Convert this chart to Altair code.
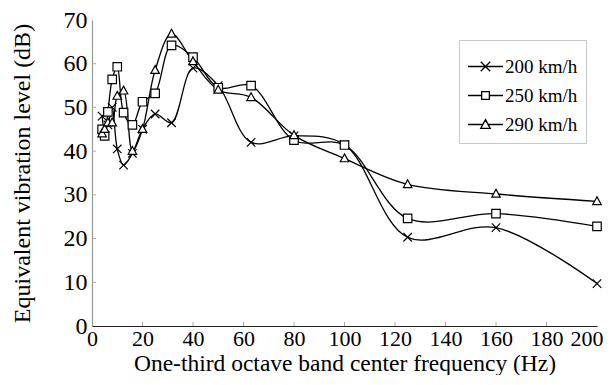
import altair as alt
import pandas as pd

freqs = [4, 5, 6.3, 8, 10, 12.5, 16, 20, 25, 31.5, 40, 50, 63, 80, 100, 125, 160, 200]
series_names = ["200 km/h", "250 km/h", "290 km/h"]
v200 = [48, 45, 46, 50, 40.5, 36.8, 39.5, 45, 48.5, 46.5, 59, 55, 42, 43.5, 41.5, 20.3, 22.5, 9.7]
v250 = [45, 43.5, 49, 56.4, 59.3, 48.8, 46, 51.3, 53.2, 64.2, 61.5, 54.5, 55, 42.5, 41.4, 24.6, 25.7, 22.8]
v290 = [44, 45, 46.5, 46.5, 52.6, 53.8, 40, 45, 58.5, 66.8, 60.5, 54, 52.3, 43.6, 38.3, 32.4, 30.2, 28.5]
x_ticks = list(range(0, 201, 20))
y_ticks = list(range(0, 71, 10))

rows = []
for name, vals in zip(series_names, [v200, v250, v290]):
    for f, v in zip(freqs, vals):
        rows.append({"freq": f, "level": v, "series": name})
df = pd.DataFrame(rows)
xt_df = pd.DataFrame({"freq": x_ticks[1:-1]})
yt_df = pd.DataFrame({"level": y_ticks[1:-1]})

FONT = "Liberation Serif"

marker_paths = [
    "M-1,-1L1,1M-1,1L1,-1",
    "M-1,-1L1,-1L1,1L-1,1Z",
    "M0,-1.1L1,0.75L-1,0.75Z",
]
legend_paths = [
    "M-1,0L1,0M-0.27,-0.27L0.27,0.27M-0.27,0.27L0.27,-0.27",
    "M-1,0L-0.22,0M0.22,0L1,0M-0.22,-0.22L0.22,-0.22L0.22,0.22L-0.22,0.22Z",
    "M-1,0L-0.15,0M0.15,0L1,0M0,-0.28L0.27,0.22L-0.27,0.22Z",
]

x_scale = alt.Scale(domain=[0, 200], nice=False, zero=False)
y_scale = alt.Scale(domain=[0, 70], nice=False)

x_enc = alt.X(
    "freq:Q", scale=x_scale,
    axis=alt.Axis(
        values=x_ticks, title="One-third octave band center frequency (Hz)",
        grid=False, ticks=False, tickSize=0, labelPadding=2, titlePadding=2,
        labelFont=FONT, labelFontSize=22, titleFont=FONT, titleFontSize=23.5,
        titleFontWeight="normal", labelColor="black", titleColor="black",
        domainColor="#222", domainWidth=1.2, labelFlush=False,
        labelAlign={"condition": {"test": "datum.value === 200", "value": "right"}, "value": "center"},
        labelOffset={"condition": {"test": "datum.value === 200", "value": 6}, "value": 0},
    ),
)
y_enc = alt.Y(
    "level:Q", scale=y_scale,
    axis=alt.Axis(
        values=y_ticks, title="Equivalent vibration level (dB)",
        grid=False, ticks=False, tickSize=0, labelPadding=5, titlePadding=29,
        labelFont=FONT, labelFontSize=24, titleFont=FONT, titleFontSize=24,
        titleFontWeight="normal", labelColor="black", titleColor="black",
        domainColor="#999", domainWidth=1.2, labelFlush=False,
    ),
)

lines = alt.Chart(df).mark_line(
    interpolate="catmull-rom", color="black", strokeWidth=1.3
).encode(x=x_enc, y=y_enc, detail="series:N")

points = alt.Chart(df).mark_point(
    filled=True, fill="white", stroke="black", strokeWidth=1.2, size=72, opacity=1
).encode(
    x="freq:Q", y="level:Q",
    shape=alt.Shape("series:N", scale=alt.Scale(domain=series_names, range=marker_paths), legend=None),
)

legend_layer = alt.Chart(df).mark_point(
    filled=False, color="black", strokeWidth=1.2, opacity=0
).encode(
    x="freq:Q", y="level:Q",
    shape=alt.Shape(
        "series:N",
        scale=alt.Scale(domain=series_names, range=legend_paths),
        legend=alt.Legend(
            title=None, orient="none", legendX=367, legendY=20,
            symbolSize=1225, symbolStrokeWidth=1.3, symbolStrokeColor="black",
            symbolOpacity=1,
            labelFont=FONT, labelFontSize=19, labelColor="black", labelOffset=1,
            rowPadding=0, padding=8, strokeColor="#c8c8c8", fillColor="white",
        ),
    ),
)

x_tick_marks = alt.Chart(xt_df).mark_rule(color="#aaa", strokeWidth=1).encode(
    x=alt.X("freq:Q", scale=x_scale), y=alt.value(306), y2=alt.value(302)
)
y_tick_marks = alt.Chart(yt_df).mark_rule(color="#aaa", strokeWidth=1).encode(
    y=alt.Y("level:Q", scale=y_scale), x=alt.value(0), x2=alt.value(4)
)

chart = alt.layer(lines, x_tick_marks, y_tick_marks, points, legend_layer).resolve_scale(
    shape="independent"
).resolve_legend(shape="independent").properties(
    width=505, height=306, background="white",
    padding={"left": 2, "right": 1, "top": 0, "bottom": 0},
).configure_view(stroke=None).configure_legend(labelFont=FONT)

chart.save("out.html", embed_options={"renderer": "svg", "actions": False})
